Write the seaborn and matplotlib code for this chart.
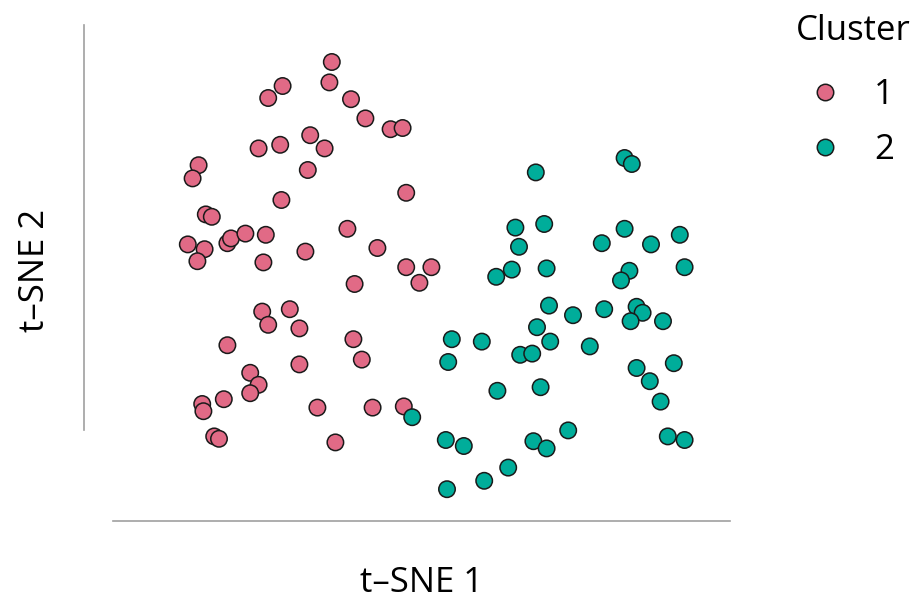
import matplotlib
matplotlib.use("Agg")
import matplotlib.pyplot as plt
import seaborn as sns
import pandas as pd

# ---- data (t-SNE coordinates) ----
c1_x = [-8.6, -8.8, -12.7, -13.9, -7.0, -5.8, -3.7, -2.7, -10.4, -14.7, -12.9, -9.2,
        -19.7, -20.2, -10.6, -2.4, -12.8, -19.1, -18.6, -7.3, -4.8, -20.6, -19.2, -19.8,
        -17.3, -17.0, -15.8, -14.1, -10.8, -14.3, -2.4, -0.3, -1.3, -6.7, -14.4, -12.1,
        -13.9, -11.3, -17.3, -6.8, -6.1, -11.3, -15.4, -14.7, -15.4, -19.4, -19.3, -17.6,
        -9.8, -5.2, -2.6, -18.4, -18.0, -8.3]
c1_y = [19.0, 17.3, 17.0, 16.0, 15.9, 14.3, 13.4, 13.5, 12.9, 11.8, 12.1, 11.8,
        10.4, 9.3, 10.0, 8.1, 7.5, 6.3, 6.1, 5.1, 3.5, 3.8, 3.4, 2.4,
        3.9, 4.3, 4.7, 4.6, 3.2, 2.3, 1.9, 1.9, 0.6, 0.5, -1.8, -1.6,
        -2.9, -3.2, -4.6, -4.1, -5.8, -6.2, -6.9, -7.9, -8.6, -9.5, -10.1, -9.1,
        -9.8, -9.8, -9.7, -12.2, -12.4, -12.7]

c2_x = [8.4, 15.8, 16.4, 6.7, 9.1, 15.8, 13.9, 18.0, 20.4, 7.0, 6.4, 5.1,
        9.3, 16.2, 15.5, 20.8, 9.5, 11.5, 14.1, 16.8, 17.3, 16.3, 19.0, 8.5,
        1.4, 3.9, 9.6, 12.9, 7.1, 8.1, 1.1, 19.9, 16.8, 17.9, 18.8, 5.2,
        8.8, -1.9, 0.9, 2.4, 8.2, 9.3, 11.1, 19.4, 20.8, 6.1, 4.1, 1.0]
c2_y = [9.8, 11.0, 10.5, 5.2, 5.5, 5.1, 3.9, 3.8, 4.6, 3.6, 1.7, 1.1,
        1.8, 1.6, 0.8, 1.9, -1.3, -2.1, -1.6, -1.4, -1.9, -2.6, -2.6, -3.1,
        -4.1, -4.3, -4.3, -4.7, -5.4, -5.3, -6.0, -6.1, -6.5, -7.6, -9.3, -8.4,
        -8.1, -10.6, -12.5, -13.0, -12.6, -13.2, -11.7, -12.2, -12.5, -14.8, -15.9, -16.6]

cluster_labels = ["1", "2"]
cluster_colors = ["#E16A86", "#00AD9A"]

df = pd.DataFrame({
    "t-SNE 1": c1_x + c2_x,
    "t-SNE 2": c1_y + c2_y,
    "Cluster": [cluster_labels[0]] * len(c1_x) + [cluster_labels[1]] * len(c2_x),
})

sns.set_theme(style="white")
plt.rcParams["font.family"] = ["Open Sans", "DejaVu Sans"]
plt.rcParams["text.color"] = "black"
plt.rcParams["axes.labelcolor"] = "black"

W, H = 920, 601
fig = plt.figure(figsize=(W / 100, H / 100), dpi=100)
# axes box in pixels: x 113..730, y 25..500
ax = fig.add_axes([113 / W, 1 - 500 / H, (730 - 113) / W, (500 - 25) / H])

sns.scatterplot(data=df, x="t-SNE 1", y="t-SNE 2", hue="Cluster",
                hue_order=cluster_labels, palette=cluster_colors,
                s=140, edgecolor="#1a1a1a", linewidth=1.1, ax=ax)

x0, x1 = (113 - 435) / 12, (730 - 435) / 12
y0, y1 = (290 - 500) / 12, (290 - 25) / 12
ax.set_xlim(x0, x1)
ax.set_ylim(y0, y1)
ax.set_xticks([])
ax.set_yticks([])

for side in ["top", "right"]:
    ax.spines[side].set_visible(False)
ax.spines["left"].set_position(("outward", 29 * 0.72))
ax.spines["bottom"].set_position(("outward", 21 * 0.72))
ax.spines["left"].set_bounds((290 - 430) / 12, y1)
ax.spines["bottom"].set_bounds(x0, x1)
for side in ["left", "bottom"]:
    ax.spines[side].set_color("#a0a0a0")
    ax.spines[side].set_linewidth(1.2)

ax.set_xlabel("t–SNE 1", fontsize=25, va="center")
ax.xaxis.set_label_coords(0.5, (500 - 583) / 475)
ax.set_ylabel("t–SNE 2", fontsize=25, va="center")
ax.yaxis.set_label_coords((35 - 113) / 617, (500 - 270) / 475)

leg = ax.legend(title="Cluster", loc="upper left", frameon=False,
                bbox_to_anchor=(782 / W, 1 - 0 / H), bbox_transform=fig.transFigure,
                fontsize=25, title_fontsize=25, markerscale=1.0,
                labelspacing=0.62, handlelength=1.7, handletextpad=0.55,
                borderaxespad=0, alignment="left")
for h in leg.legend_handles:
    h.set_markeredgecolor("#1a1a1a")
    h.set_markeredgewidth(1.1)
leg._legend_box.sep = 0.7 * 25 + 4

fig.savefig("out.png", dpi=100)
